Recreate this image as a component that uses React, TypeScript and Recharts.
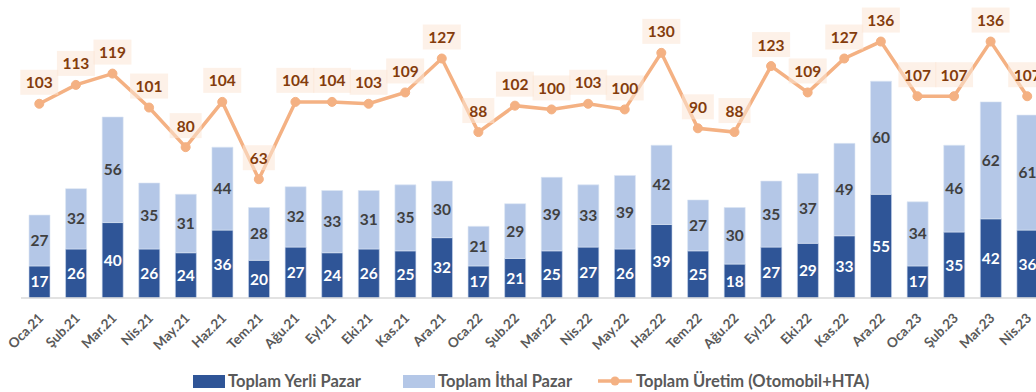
import React from "react"
import { ComposedChart, Bar, Line, XAxis, YAxis, Legend, LabelList } from "recharts"

const months = [
  "Oca.21", "Şub.21", "Mar.21", "Nis.21", "May.21", "Haz.21", "Tem.21", "Ağu.21", "Eyl.21", "Eki.21",
  "Kas.21", "Ara.21", "Oca.22", "Şub.22", "Mar.22", "Nis.22", "May.22", "Haz.22", "Tem.22", "Ağu.22",
  "Eyl.22", "Eki.22", "Kas.22", "Ara.22", "Oca.23", "Şub.23", "Mar.23", "Nis.23",
]
const yerliPazar = [17, 26, 40, 26, 24, 36, 20, 27, 24, 26, 25, 32, 17, 21, 25, 27, 26, 39, 25, 18, 27, 29, 33, 55, 17, 35, 42, 36]
const ithalPazar = [27, 32, 56, 35, 31, 44, 28, 32, 33, 31, 35, 30, 21, 29, 39, 33, 39, 42, 27, 30, 35, 37, 49, 60, 34, 46, 62, 61]
const uretim = [103, 113, 119, 101, 80, 104, 63, 104, 104, 103, 109, 127, 88, 102, 100, 103, 100, 130, 90, 88, 123, 109, 127, 136, 107, 107, 136, 107]

const data = months.map((month, i) => ({
  month,
  yerli: yerliPazar[i],
  ithal: ithalPazar[i],
  uretim: uretim[i],
}))

const FONT = "Lato, 'Open Sans', sans-serif"
const DARK = "#2F5597"
const LIGHT = "#B4C7E7"
const ORANGE = "#F4B183"

function MonthTick({ x, y, payload }: any) {
  const ax = x + 5
  const ay = y + 13
  return (
    <text
      x={ax}
      y={ay}
      transform={`rotate(-45 ${ax} ${ay})`}
      textAnchor="end"
      fontSize={13.5}
      fontWeight={700}
      fill="#595959"
      fontFamily={FONT}
    >
      {payload.value}
    </text>
  )
}

function UretimLabel({ x, y, value }: any) {
  const w = String(value).length > 2 ? 38 : 32
  return (
    <g>
      <rect x={x - w / 2} y={y - 34} width={w} height={25} fill="#FBE5D6" fillOpacity={0.55} />
      <text
        x={x}
        y={y - 21.5}
        textAnchor="middle"
        dominantBaseline="central"
        fontSize={15.5}
        fontWeight={700}
        fill="#843C0C"
        fontFamily={FONT}
      >
        {value}
      </text>
    </g>
  )
}

function LegendBox() {
  const text = { fontSize: 16.5, fontWeight: 700, color: "#595959", fontFamily: FONT, whiteSpace: "nowrap" as const, lineHeight: "20px" }
  return (
    <div style={{ position: "relative", height: 20 }}>
      <div style={{ position: "absolute", left: 193, top: 4, width: 32, height: 13, background: DARK }} />
      <span style={{ ...text, position: "absolute", left: 228, top: 0 }}>Toplam Yerli Pazar</span>
      <div style={{ position: "absolute", left: 403, top: 4, width: 32, height: 13, background: LIGHT }} />
      <span style={{ ...text, position: "absolute", left: 438, top: 0 }}>Toplam İthal Pazar</span>
      <svg style={{ position: "absolute", left: 598, top: 0 }} width={34} height={20}>
        <line x1={0} y1={10} x2={34} y2={10} stroke={ORANGE} strokeWidth={3.5} />
        <circle cx={17} cy={10} r={4.5} fill={ORANGE} />
      </svg>
      <span style={{ ...text, position: "absolute", left: 636, top: 0 }}>Toplam Üretim (Otomobil+HTA)</span>
    </div>
  )
}

export default function App() {
  return (
    <div style={{ position: "absolute", left: 0, top: 0, width: 1036, height: 392, overflow: "hidden", background: "#fff" }}>
      <ComposedChart
        width={1050}
        height={392}
        data={data}
        margin={{ top: 34, right: 4.5, left: 21, bottom: 64 }}
        style={{ fontFamily: FONT }}
      >
        <XAxis
          dataKey="month"
          interval={0}
          height={30}
          tickLine={false}
          axisLine={{ stroke: "#D9D9D9", strokeWidth: 1.5 }}
          tick={<MonthTick />}
        />
        <YAxis hide domain={[0, 140]} />
        <Legend
          layout="horizontal"
          verticalAlign="middle"
          align="center"
          wrapperStyle={{ top: 371, left: 0, width: 1036, height: 20 }}
          content={<LegendBox />}
        />
        <Bar dataKey="yerli" stackId="pazar" fill={DARK} barSize={21} stroke="#C9D6EE" strokeWidth={0.6} isAnimationActive={false}>
          <LabelList dataKey="yerli" position="center" fill="#FFFFFF" fontSize={15.5} fontWeight={700} fontFamily={FONT} />
        </Bar>
        <Bar dataKey="ithal" stackId="pazar" fill={LIGHT} barSize={21} stroke="#DCE5F4" strokeWidth={0.6} isAnimationActive={false}>
          <LabelList dataKey="ithal" position="center" fill="#404040" fontSize={15.5} fontWeight={700} fontFamily={FONT} />
        </Bar>
        <Line
          dataKey="uretim"
          type="linear"
          stroke={ORANGE}
          strokeWidth={3.5}
          dot={{ r: 4.5, fill: ORANGE, stroke: ORANGE, strokeWidth: 1 }}
          activeDot={false}
          isAnimationActive={false}
        >
          <LabelList dataKey="uretim" content={<UretimLabel />} />
        </Line>
      </ComposedChart>
    </div>
  )
}
